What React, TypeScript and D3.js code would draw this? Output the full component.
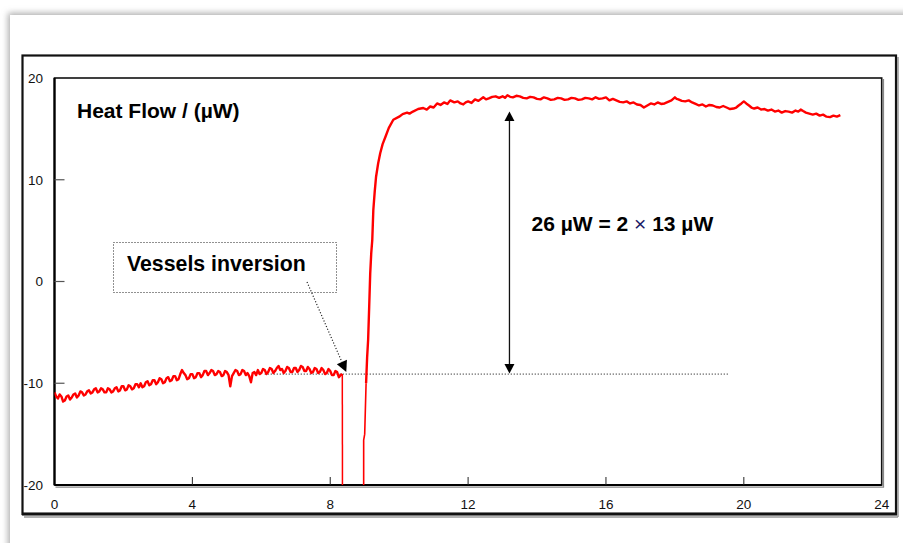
import React from "react";
import * as d3 from "d3";

// time (h) and heat flow (µW), before the vessels inversion
const baseHours = [
  0.0, 0.05, 0.1, 0.15, 0.2, 0.25, 0.3, 0.35, 0.4, 0.45, 0.5, 0.55, 0.6, 0.65, 0.7, 0.75, 0.8, 0.85, 0.9, 0.95,
  1.0, 1.05, 1.1, 1.15, 1.2, 1.25, 1.3, 1.35, 1.4, 1.45, 1.5, 1.55, 1.6, 1.65, 1.7, 1.75, 1.8, 1.85, 1.9, 1.95,
  2.0, 2.05, 2.1, 2.15, 2.2, 2.25, 2.3, 2.35, 2.4, 2.45, 2.5, 2.55, 2.6, 2.65, 2.7, 2.75, 2.8, 2.85, 2.9, 2.95,
  3.0, 3.05, 3.1, 3.15, 3.2, 3.25, 3.3, 3.35, 3.4, 3.45, 3.5, 3.55, 3.6, 3.65, 3.7, 3.75, 3.8, 3.85, 3.9, 3.95,
  4.0, 4.05, 4.1, 4.15, 4.2, 4.25, 4.3, 4.35, 4.4, 4.45, 4.5, 4.55, 4.6, 4.65, 4.7, 4.75, 4.8, 4.85, 4.9, 4.95,
  5.0, 5.05, 5.1, 5.15, 5.2, 5.25, 5.3, 5.35, 5.4, 5.45, 5.5, 5.55, 5.6, 5.65, 5.7, 5.75, 5.8, 5.85, 5.9, 5.95,
  6.0, 6.05, 6.1, 6.15, 6.2, 6.25, 6.3, 6.35, 6.4, 6.45, 6.5, 6.55, 6.6, 6.65, 6.7, 6.75, 6.8, 6.85, 6.9, 6.95,
  7.0, 7.05, 7.1, 7.15, 7.2, 7.25, 7.3, 7.35, 7.4, 7.45, 7.5, 7.55, 7.6, 7.65, 7.7, 7.75, 7.8, 7.85, 7.9, 7.95,
  8.0, 8.05, 8.1, 8.15, 8.2, 8.25, 8.3, 8.35,
];
const baseFlow = [
  -10.9, -11.3, -11.5, -11.1, -11.3, -11.8, -11.7, -11.3, -11.2, -11.6, -11.4, -11.1, -11.0, -11.4, -11.2, -10.8, -10.9, -11.2, -11.1, -10.8,
  -10.7, -11.0, -10.9, -10.6, -10.5, -10.9, -10.8, -10.5, -10.6, -10.9, -10.9, -10.5, -10.6, -10.9, -10.8, -10.5, -10.4, -10.8, -10.7, -10.3,
  -10.3, -10.7, -10.6, -10.2, -10.3, -10.6, -10.5, -10.1, -10.1, -10.4, -10.0, -10.4, -10.3, -9.9, -9.8, -10.2, -10.1, -9.7, -9.7, -10.1,
  -9.9, -9.5, -9.6, -10.0, -9.9, -9.5, -9.4, -9.8, -9.7, -9.3, -9.3, -9.7, -9.6, -9.1, -8.7, -9.0, -9.2, -9.6, -9.5, -9.1,
  -9.1, -9.5, -9.4, -9.0, -9.0, -9.4, -9.2, -8.8, -8.8, -9.2, -9.0, -8.7, -8.8, -9.2, -9.1, -8.8, -8.9, -9.3, -9.2, -8.8,
  -8.9, -9.2, -10.3, -9.3, -9.0, -8.7, -8.8, -9.2, -9.1, -8.7, -8.8, -9.2, -9.0, -9.3, -9.9, -9.0, -8.9, -9.2, -8.7, -9.1,
  -9.0, -8.6, -8.7, -9.1, -8.9, -8.5, -8.6, -9.0, -8.8, -8.5, -8.3, -8.7, -8.6, -9.0, -8.8, -8.4, -8.5, -8.9, -8.9, -8.5,
  -8.5, -8.9, -8.7, -8.3, -8.4, -8.8, -8.8, -8.4, -8.6, -9.0, -8.9, -8.5, -8.6, -9.0, -8.9, -8.5, -8.7, -9.1, -9.0, -8.6,
  -8.8, -9.2, -9.2, -8.8, -8.9, -9.4, -9.2, -9.1,
];

// the signal falls off scale at the inversion and comes back from below
const dropHours = [8.35, 8.36];
const dropFlow = [-9.1, -30];
const returnHours = [8.97, 8.97, 9.0, 9.04];
const returnFlow = [-30, -15.6, -15.0, -10.0];

// after the inversion: steep rise, then the plateau
const riseHours = [
  9.04, 9.07, 9.1, 9.13, 9.16, 9.19, 9.22, 9.25, 9.29, 9.33, 9.39, 9.45, 9.52, 9.6, 9.7, 9.83,
  10.0, 10.1, 10.23, 10.3, 10.4, 10.55, 10.7, 10.8, 10.9, 11.0, 11.1, 11.2, 11.3, 11.4, 11.48, 11.6, 11.7, 11.78,
  11.86, 11.93, 12.0, 12.1, 12.2, 12.3, 12.44, 12.52, 12.6, 12.7, 12.8, 12.9, 13.0, 13.07, 13.14, 13.22, 13.3, 13.4,
  13.5, 13.6, 13.7, 13.8, 13.9, 14.0, 14.1, 14.2, 14.3, 14.4, 14.5, 14.6, 14.7, 14.8, 14.9, 15.0, 15.1, 15.2,
  15.3, 15.4, 15.5, 15.6, 15.7, 15.8, 15.9, 16.0, 16.1, 16.2, 16.3, 16.4, 16.5, 16.6, 16.7, 16.8, 16.9, 17.0,
  17.1, 17.2, 17.3, 17.4, 17.5, 17.6, 17.7, 17.8, 17.9, 18.0, 18.05, 18.1, 18.2, 18.3, 18.4, 18.5, 18.6, 18.7,
  18.8, 18.9, 19.0, 19.1, 19.2, 19.3, 19.4, 19.5, 19.6, 19.7, 19.78, 19.85, 19.93, 20.0, 20.07, 20.15, 20.22, 20.3,
  20.4, 20.5, 20.6, 20.7, 20.8, 20.9, 21.0, 21.1, 21.2, 21.3, 21.4, 21.5, 21.58, 21.65, 21.72, 21.8, 21.9, 22.0,
  22.1, 22.2, 22.3, 22.4, 22.5, 22.6, 22.7, 22.8,
];
const riseFlow = [
  -10.0, -7.5, -5.7, -2.5, 0.8, 2.8, 4.1, 7.0, 8.8, 10.3, 11.6, 12.6, 13.5, 14.2, 15.1, 15.9,
  16.2, 16.45, 16.6, 16.5, 16.7, 16.95, 17.05, 16.9, 17.2, 17.1, 17.5, 17.35, 17.6, 17.45, 17.8, 17.6, 17.7, 17.5,
  17.4, 17.6, 17.7, 17.55, 17.9, 17.75, 18.1, 17.9, 18.0, 18.15, 18.2, 18.05, 18.2, 18.05, 18.3, 18.15, 18.1, 18.25,
  18.2, 18.05, 18.0, 18.15, 18.1, 17.95, 17.9, 18.1, 18.0, 17.85, 17.9, 18.05, 18.0, 17.85, 17.9, 18.05, 18.0, 17.85,
  17.9, 18.05, 18.0, 17.9, 18.1, 17.95, 18.0, 18.1, 17.8, 17.95, 17.8, 17.65, 17.6, 17.7, 17.5, 17.6, 17.4, 17.35,
  17.1, 17.3, 17.5, 17.4, 17.6, 17.45, 17.5, 17.65, 17.8, 18.1, 17.95, 17.9, 17.75, 17.7, 17.8, 17.6, 17.45, 17.3,
  17.4, 17.2, 17.35, 17.3, 17.15, 17.1, 17.25, 17.1, 16.95, 17.0, 17.1, 17.3, 17.5, 17.7, 17.5, 17.3, 17.1, 17.0,
  17.1, 16.9, 16.95, 16.8, 16.9, 16.7, 16.8, 16.6, 16.75, 16.7, 16.6, 16.8, 16.7, 16.9, 16.75, 16.6, 16.5, 16.4,
  16.5, 16.3, 16.4, 16.2, 16.15, 16.3, 16.2, 16.35,
];

const xTicks = [0, 4, 8, 12, 16, 20, 24];
const yTicks = [20, 10, 0, -10, -20];

// reference level and the jump annotation
const refLevel = -9.1;
const refFrom = 6.1;
const refTo = 19.55;
const jumpAt = 13.2;
const jumpTop = 16.7;

const font = "'Liberation Sans', Arial, sans-serif";

const pairs = (hs: number[], vs: number[]) => hs.map((h, i) => [h, vs[i]] as [number, number]);

export default function App() {
  const W = 903;
  const H = 543;
  const x = d3.scaleLinear().domain([0, 24]).range([54.5, 881.7]);
  const y = d3.scaleLinear().domain([-20, 20]).range([485, 78]);

  const line = d3
    .line<[number, number]>()
    .x((d) => x(d[0]))
    .y((d) => y(d[1]));

  const [x0, x1] = x.range();
  const [y0, y1] = [y(20), y(-20)];

  const jx = x(jumpAt);
  const jTop = y(jumpTop);
  const jBot = y(refLevel) - 0.5;

  // dotted arrow from the label box to the start of inversion
  const ax0 = 307;
  const ay0 = 282;
  const ax1 = x(8.35) + 4;
  const ay1 = y(refLevel) - 2;
  const len = Math.hypot(ax1 - ax0, ay1 - ay0);
  const ux = (ax1 - ax0) / len;
  const uy = (ay1 - ay0) / len;
  const hl = 11;
  const hw = 5.5;
  const bx = ax1 - ux * hl;
  const by = ay1 - uy * hl;

  return (
    <svg width={W} height={H} style={{ position: "absolute", left: 0, top: 0 }}>
      <defs>
        <filter id="pageShadow" x="-5%" y="-5%" width="110%" height="110%">
          <feDropShadow dx="-2" dy="-2" stdDeviation="3" floodColor="#8a8a8a" floodOpacity="0.7" />
        </filter>
        <clipPath id="plotClip">
          <rect x={x0} y={y0} width={x1 - x0} height={y1 - y0} />
        </clipPath>
      </defs>
      <rect width={W} height={H} fill="#fff" />
      <rect x={10} y={15} width={W + 20} height={H + 20} fill="#fff" filter="url(#pageShadow)" />

      {/* outer frame */}
      <line x1={898} y1={57} x2={898} y2={517} stroke="#999" strokeWidth={1.5} />
      <line x1={24} y1={517} x2={898} y2={517} stroke="#999" strokeWidth={1.5} />
      <rect x={22.5} y={55.5} width={873.5} height={458.5} fill="none" stroke="#111" strokeWidth={2.2} />
      <line x1={22} y1={514} x2={897} y2={514} stroke="#111" strokeWidth={3} />

      {/* inner plot frame */}
      <line x1={x1 + 1.8} y1={y0 + 1} x2={x1 + 1.8} y2={y1 + 2} stroke="#888" strokeWidth={1.2} />
      <line x1={x0 + 1} y1={y1 + 2.2} x2={x1 + 2.4} y2={y1 + 2.2} stroke="#888" strokeWidth={1.2} />
      <rect x={x0} y={y0} width={x1 - x0} height={y1 - y0} fill="none" stroke="#111" strokeWidth={1.6} />
      <line x1={x0} y1={y0} x2={x0} y2={y1} stroke="#000" strokeWidth={2.2} />
      <line x1={x0} y1={y1} x2={x1} y2={y1} stroke="#000" strokeWidth={2.2} />

      {/* ticks */}
      {xTicks.slice(1, -1).map((t) => (
        <line key={"xt" + t} x1={x(t)} x2={x(t)} y1={y1} y2={y1 - 8} stroke="#222" strokeWidth={1} />
      ))}
      {yTicks.slice(1, -1).map((t) => (
        <line key={"yt" + t} x1={x0} x2={x0 + 10} y1={y(t)} y2={y(t)} stroke="#555" strokeWidth={1.2} />
      ))}
      {xTicks.map((t) => (
        <text key={"xl" + t} x={x(t)} y={509} textAnchor="middle" fontFamily={font} fontSize={13.5} fill="#111">
          {t}
        </text>
      ))}
      {yTicks.map((t) => (
        <text key={"yl" + t} x={43} y={y(t) + 4.8} textAnchor="end" fontFamily={font} fontSize={13.5} fill="#111">
          {t}
        </text>
      ))}

      {/* reference dotted level */}
      <line
        x1={x(refFrom)}
        x2={x(refTo)}
        y1={y(refLevel)}
        y2={y(refLevel)}
        stroke="#000"
        strokeWidth={1}
        strokeDasharray="1,2"
      />

      {/* trace */}
      <g clipPath="url(#plotClip)" fill="none" stroke="#ff0000" strokeLinejoin="round">
        <path d={line(pairs(baseHours, baseFlow)) || ""} strokeWidth={2.4} />
        <path d={line(pairs(dropHours, dropFlow)) || ""} strokeWidth={1.5} />
        <path d={line(pairs(returnHours, returnFlow)) || ""} strokeWidth={1.6} />
        <path d={line(pairs(riseHours, riseFlow)) || ""} strokeWidth={2.4} />
      </g>

      {/* titles and annotations */}
      <text x={77} y={117.5} fontFamily={font} fontSize={21} fontWeight="bold" fill="#000">
        Heat Flow / (µW)
      </text>

      <rect x={113.5} y={242.5} width={223} height={50} fill="none" stroke="#222" strokeWidth={1} strokeDasharray="1,2" />
      <text x={127} y={271} fontFamily={font} fontSize={21.3} fontWeight="bold" fill="#000">
        Vessels inversion
      </text>
      <line x1={ax0} y1={ay0} x2={bx} y2={by} stroke="#222" strokeWidth={1.2} strokeDasharray="1.2,1.8" />
      <polygon
        points={`${ax1},${ay1} ${bx - uy * hw},${by + ux * hw} ${bx + uy * hw},${by - ux * hw}`}
        fill="#000"
      />

      <line x1={jx} x2={jx} y1={jTop + 8} y2={jBot - 8} stroke="#111" strokeWidth={1.3} />
      <polygon points={`${jx},${jTop} ${jx - 5},${jTop + 9.5} ${jx + 5},${jTop + 9.5}`} fill="#000" />
      <polygon points={`${jx},${jBot} ${jx - 5},${jBot - 9.5} ${jx + 5},${jBot - 9.5}`} fill="#000" />

      <text x={531.5} y={231} fontFamily={font} fontSize={21} fontWeight="bold" fill="#000">
        {"26 µW = 2 "}
        <tspan fill="#1a1a66" fontWeight="normal">×</tspan>
        {" 13 µW"}
      </text>
    </svg>
  );
}
